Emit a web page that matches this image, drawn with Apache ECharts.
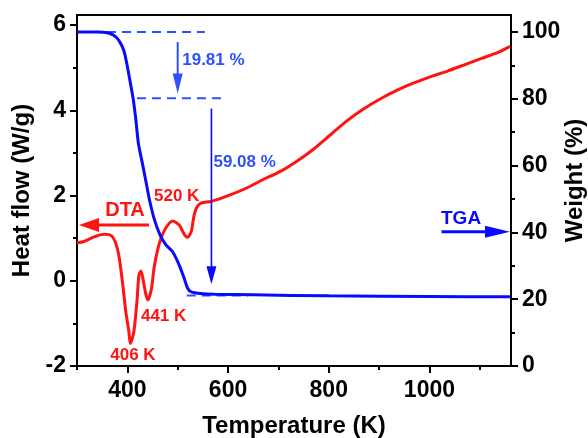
<!DOCTYPE html>
<html><head><meta charset="utf-8">
<script src="https://cdn.jsdelivr.net/npm/echarts@6/dist/echarts.min.js"></script>
<style>html,body{margin:0;padding:0;background:#fff}#c{width:588px;height:438px}</style>
</head><body><div id="c"></div>
<script>
// ---- data ----
const dtaTemp = [300,314,334,354,368,377,384,391,397,403,406,413,419,423,427,432,437,441,448,453,460,467,477,490,503,513,520,527,532,537,546,566,603,636,669,703,736,769,803,836,869,903,936,969,1003,1036,1068,1102,1135,1160];
const dtaHeat = [0.89,0.92,1.03,1.09,1.06,0.88,0.53,-0.1,-0.73,-1.19,-1.47,-1.19,-0.49,0.13,0.23,-0.02,-0.33,-0.45,-0.18,0.3,0.72,1.0,1.25,1.4,1.31,1.09,1.02,1.16,1.5,1.7,1.82,1.86,2.01,2.17,2.37,2.56,2.8,3.08,3.42,3.75,4.03,4.27,4.47,4.64,4.79,4.92,5.06,5.21,5.35,5.5];
const tgaTemp = [300,340,360,373,383,393,399,405,412,417,422,430,439,444,453,465,477,490,503,513,520,527,546,573,650,800,1000,1160];
const tgaWeight = [100,100,99.8,99.0,97.5,94.5,90.5,85.6,79.6,73.6,66.6,60.6,53.6,49.7,44.2,39.2,36.2,34.2,30.2,26.2,23.2,22.2,21.7,21.5,21.3,21.0,20.8,20.7];

const xMajor = [400,600,800,1000];
const xMinor = [300,500,700,900,1100];
const yLeftMajor = [-2,0,2,4,6];
const yLeftMinor = [-1,1,3,5];
const yRightMajor = [0,20,40,60,80,100];
const yRightMinor = [10,30,50,70,90];

// weight-loss steps (right axis)
const stepLevels = [100, 80.19, 21.11];
const stepLabels = ['19.81 %', '59.08 %'];
// peak labels (left axis)
const peakLabels = ['406 K', '441 K', '520 K'];

const RED = '#ff1414', BLUE = '#0a0aff', LBLUE = '#2f50ff';
const FF = '"Liberation Sans", Arial, sans-serif';

const chart = echarts.init(document.getElementById('c'));
const lab = {color:'#000', fontSize:23, fontWeight:'bold', fontFamily:FF, formatter:v=>String(v)};
const nm = {color:'#000', fontSize:24, fontWeight:'bold', fontFamily:FF};
const blk = {color:'#000', width:2};

chart.setOption({
  animation:false,
  grid:{left:77, right:77, top:15, bottom:72, show:true, borderColor:'#000', borderWidth:2,
        containLabel:false, outerBoundsMode:'none'},
  xAxis:[
    {type:'value', min:300, max:1162, position:'bottom',
     axisLine:{onZero:false, lineStyle:blk},
     axisTick:{customValues:xMajor, length:7, lineStyle:blk},
     axisLabel:Object.assign({customValues:xMajor, margin:13}, lab),
     splitLine:{show:false},
     name:'Temperature (K)', nameLocation:'middle', nameGap:48, nameTextStyle:nm},
    {type:'value', min:300, max:1162, position:'bottom',
     axisLine:{show:false, onZero:false},
     axisTick:{customValues:xMinor, length:4, lineStyle:blk},
     axisLabel:{show:false}, splitLine:{show:false}}
  ],
  yAxis:[
    {type:'value', min:-2, max:6.235, position:'left',
     axisLine:{show:true, onZero:false, lineStyle:blk},
     axisTick:{customValues:yLeftMajor, length:7, lineStyle:blk},
     axisLabel:Object.assign({customValues:yLeftMajor, margin:11}, lab),
     splitLine:{show:false},
     name:'Heat flow (W/g)', nameLocation:'middle', nameGap:42, nameTextStyle:nm},
    {type:'value', min:0, max:105.1, position:'right',
     axisLine:{show:true, onZero:false, lineStyle:blk},
     axisTick:{customValues:yRightMajor, length:7, lineStyle:blk},
     axisLabel:Object.assign({customValues:yRightMajor, margin:11}, lab),
     splitLine:{show:false},
     name:'Weight (%)', nameLocation:'middle', nameGap:52, nameMoveOverlap:false,
     nameTextStyle:Object.assign({padding:[0,0,0,20]}, nm)},
    {type:'value', min:-2, max:6.235, position:'left',
     axisLine:{show:false, onZero:false},
     axisTick:{customValues:yLeftMinor, length:4, lineStyle:blk},
     axisLabel:{show:false}, splitLine:{show:false}},
    {type:'value', min:0, max:105.1, position:'right',
     axisLine:{show:false, onZero:false},
     axisTick:{customValues:yRightMinor, length:4, lineStyle:blk},
     axisLabel:{show:false}, splitLine:{show:false}}
  ],
  series:[
    {type:'line', name:'DTA', xAxisIndex:0, yAxisIndex:0, showSymbol:false, smooth:0.25,
     lineStyle:{color:RED, width:3}, itemStyle:{color:RED},
     data:dtaTemp.map((t,i)=>[t,dtaHeat[i]]), z:3},
    {type:'line', name:'TGA', xAxisIndex:0, yAxisIndex:1, showSymbol:false, smooth:0.25,
     lineStyle:{color:BLUE, width:3}, itemStyle:{color:BLUE},
     data:tgaTemp.map((t,i)=>[t,tgaWeight[i]]), z:4}
  ]
});

function pL(x,y){return chart.convertToPixel({xAxisIndex:0,yAxisIndex:0},[x,y]);}
function pR(x,y){return chart.convertToPixel({xAxisIndex:0,yAxisIndex:1},[x,y]);}

const g = [];
function dashed(a,b,color){
  g.push({type:'line', z:3, shape:{x1:a[0],y1:a[1],x2:b[0],y2:b[1]},
    style:{stroke:color, lineWidth:2, lineDash:[9,6]}});
}
function arrow(a,b,color,lw,hl,hw){
  const dx=b[0]-a[0], dy=b[1]-a[1], L=Math.hypot(dx,dy), ux=dx/L, uy=dy/L;
  const bx=b[0]-ux*hl, by=b[1]-uy*hl;
  g.push({type:'line', z:5, shape:{x1:a[0],y1:a[1],x2:bx+ux*2,y2:by+uy*2},
    style:{stroke:color, lineWidth:lw}});
  g.push({type:'polygon', z:5, shape:{points:[[b[0],b[1]],[bx-uy*hw/2,by+ux*hw/2],[bx+uy*hw/2,by-ux*hw/2]]},
    style:{fill:color}});
}
function text(p,s,color,size){
  g.push({type:'text', z:6, x:p[0], y:p[1],
    style:{text:s, fill:color, font:'bold '+size+'px '+FF, align:'left', verticalAlign:'middle'}});
}

// dashed step lines
dashed(pR(300,stepLevels[0]), pR(554,stepLevels[0]), LBLUE);
dashed(pR(419,stepLevels[1]), pR(590,stepLevels[1]), LBLUE);
dashed(pR(518,stepLevels[2]), pR(640,stepLevels[2]), LBLUE);
// step arrows
arrow(pR(500,97), pR(500,81.6), LBLUE, 2, 20, 10);
arrow(pR(567,77.1), pR(567,24.5), BLUE, 1.6, 18, 10);
text(pR(509,91.5), stepLabels[0], LBLUE, 17);
text(pR(571,61), stepLabels[1], LBLUE, 17);
// DTA / TGA indicators
arrow(pL(443,1.31), pL(304,1.31), RED, 3, 20, 14);
text(pL(356,1.64), 'DTA', RED, 20);
arrow(pR(1024,40.2), pR(1160,40.2), BLUE, 3, 25, 12);
text(pR(1023,44), 'TGA', BLUE, 19);
// peak labels
text(pL(366,-1.74), peakLabels[0], RED, 17);
text(pL(427,-0.83), peakLabels[1], RED, 17);
text(pL(453,1.97), peakLabels[2], RED, 17);

chart.setOption({graphic:g});
</script></body></html>
